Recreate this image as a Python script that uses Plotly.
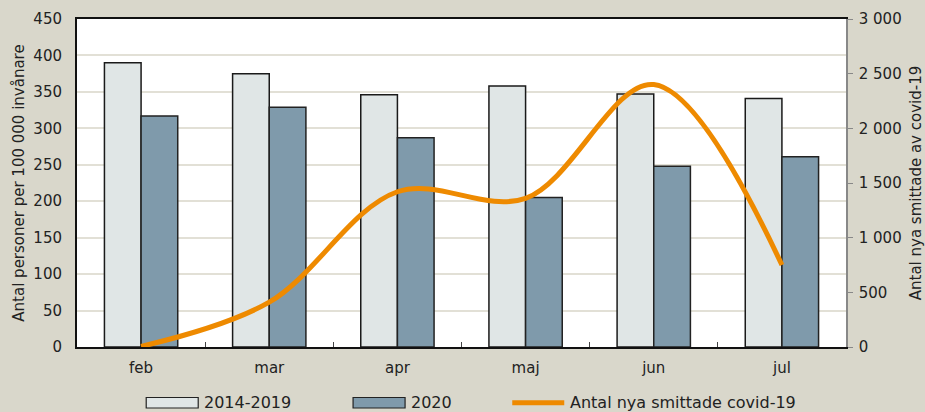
import plotly.graph_objects as go

months = ["feb", "mar", "apr", "maj", "jun", "jul"]
avg_2014_2019 = [390, 375, 346, 358, 347, 341]
values_2020 = [317, 329, 287, 205, 248, 261]
covid_cases = [5, 410, 1420, 1360, 2400, 750]

left_ticks = [0, 50, 100, 150, 200, 250, 300, 350, 400, 450]
right_ticks = [0, 500, 1000, 1500, 2000, 2500, 3000]
right_labels = ["0", "500", "1 000", "1 500", "2 000", "2 500", "3 000"]

legend_names = ["2014-2019", "2020", "Antal nya smittade covid-19"]

BG = "#D9D7CB"
LIGHT = "#E0E6E6"
DARK = "#7F9AAB"
ORANGE = "#EE8A00"
FONT = "DejaVu Sans"

fig = go.Figure()
fig.add_trace(go.Bar(x=months, y=avg_2014_2019, name=legend_names[0],
                     marker=dict(color=LIGHT, line=dict(color="#1a1a1a", width=1.5)),
                     showlegend=False))
fig.add_trace(go.Bar(x=months, y=values_2020, name=legend_names[1],
                     marker=dict(color=DARK, line=dict(color="#222", width=1.5)),
                     showlegend=False))
fig.add_trace(go.Scatter(x=months, y=covid_cases, name=legend_names[2], yaxis="y2",
                         mode="lines", line=dict(color=ORANGE, width=5, shape="spline", smoothing=1.0),
                         showlegend=False))

fig.update_layout(
    width=925, height=412,
    paper_bgcolor=BG, plot_bgcolor="white",
    margin=dict(l=77, r=79, t=19, b=65),
    font=dict(family=FONT, size=14, color="#222"),
    barmode="group", bargap=0.428, bargroupgap=0,
    xaxis=dict(showline=True, linecolor="#111", linewidth=2, mirror=True, automargin=False,
               ticks="inside", tickson="boundaries", ticklen=5, tickcolor="#444",
               tickfont=dict(size=15), showgrid=False, ticklabelstandoff=6),
    yaxis=dict(range=[0, 450], tickvals=left_ticks, showline=True, linecolor="#111", linewidth=2,
               gridcolor="#E2E0D6", gridwidth=1.5, ticks="", tickfont=dict(size=15), automargin=False,
               ticklabelstandoff=10,
               title=dict(text="Antal personer per 100 000 invånare", font=dict(size=15), standoff=5),
               zeroline=False),
    yaxis2=dict(range=[0, 3000], overlaying="y", side="right", tickvals=right_ticks, ticktext=right_labels,
                showline=True, linecolor="#888", linewidth=1.5, ticks="outside", ticklen=5, tickcolor="#888",
                showgrid=False, zeroline=False, tickfont=dict(size=15), automargin=False,
                ticklabelstandoff=3,
                title=dict(text="Antal nya smittade av covid-19", font=dict(size=15), standoff=11)),
)

# custom legend at bottom
ly = -0.17
items = [(0.090, "rect", LIGHT, "#222", legend_names[0]),
         (0.359, "rect", DARK, "#222", legend_names[1]),
         (0.566, "line", ORANGE, None, legend_names[2])]
pw = 925 - 77 - 79
for x0, kind, fill, border, label in items:
    w = 52 / pw
    if kind == "rect":
        fig.add_shape(type="rect", xref="paper", yref="paper", x0=x0, x1=x0 + w,
                      y0=ly - 0.016, y1=ly + 0.016, fillcolor=fill, line=dict(color=border, width=1.2))
    else:
        fig.add_shape(type="line", xref="paper", yref="paper", x0=x0, x1=x0 + w,
                      y0=ly, y1=ly, line=dict(color=fill, width=5))
    fig.add_annotation(xref="paper", yref="paper", x=x0 + w + 4 / pw, y=ly, text=label,
                       showarrow=False, xanchor="left", yanchor="middle",
                       font=dict(size=16, color="#222"))

fig.write_html("out.html", config={"displayModeBar": False},
               post_script="document.body.style.margin='0';document.body.style.overflow='hidden';")
